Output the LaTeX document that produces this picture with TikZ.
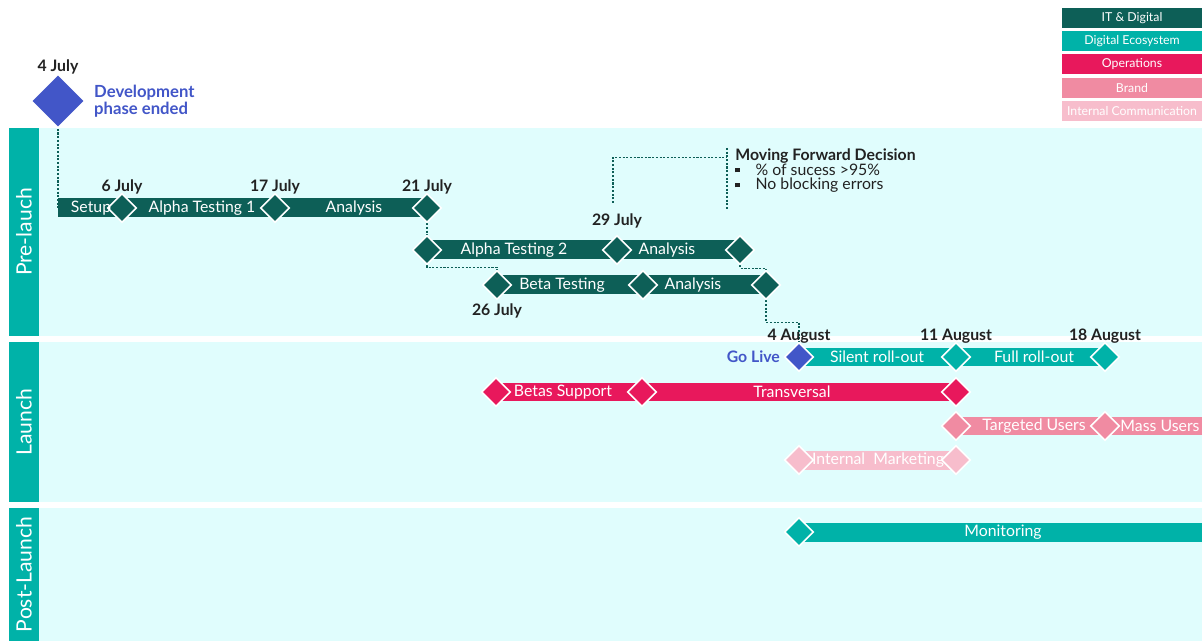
\documentclass[tikz,border=0pt]{standalone}
\usepackage{fontspec}
\setmainfont{Lato}
\usetikzlibrary{calc,positioning,shapes.geometric}
\definecolor{itd}{HTML}{0D5F57}
\definecolor{eco}{HTML}{00B2A8}
\definecolor{ops}{HTML}{E8185C}
\definecolor{brand}{HTML}{F08BA2}
\definecolor{intcom}{HTML}{F7BDCC}
\definecolor{mile}{HTML}{4256C8}
\definecolor{band}{HTML}{E0FDFD}
\definecolor{ink}{HTML}{222222}
\pgfdeclarelayer{bars}
\pgfsetlayers{bars,main}

\begin{document}
\begin{tikzpicture}[x=0.02cm,y=-0.02cm,
  ms/.style={diamond, draw=white, line width=0.9pt, fill=#1, minimum size=0.58cm, inner sep=0pt},
  bar/.style={draw=#1, line width=0.38cm},
  bartext/.style={text=white, font=\fontsize{9}{10}\selectfont},
  datel/.style={text=ink, font=\bfseries\fontsize{9}{10}\selectfont, inner sep=1pt, label distance=-2pt},
  link/.style={draw=itd, line width=0.7pt, dash pattern=on 1.2pt off 0.9pt},
  lane/.style={fill=eco, text=white, rotate=90, minimum height=0.6cm, inner sep=0pt, font=\fontsize{12}{12}\selectfont},
  leg/.style={fill=#1, text=white, minimum width=2.8cm, minimum height=0.4cm, inner sep=0pt, font=\fontsize{7}{8}\selectfont}]

\begin{pgfonlayer}{bars}
\fill[white] (0,0) rectangle (1202,641);
\fill[band] (9,128) rectangle (1202,336);
\fill[band] (9,342) rectangle (1202,502);
\fill[band] (9,508) rectangle (1202,641);
\end{pgfonlayer}
\useasboundingbox (0,0) rectangle (1202,641);

\node[lane, minimum width=4.16cm] (pre) at (24,232) {Pre-lauch};
\node[lane, minimum width=3.2cm] (lau) at (24,422) {Launch};
\node[lane, minimum width=2.66cm] (post) at (24,574.5) {Post-Launch};

\node[leg=itd] (lgit) at (1132,18) {IT \& Digital};
\node[leg=eco, below=0.05cm of lgit] (lgeco) {Digital Ecosystem};
\node[leg=ops, below=0.05cm of lgeco] (lgops) {Operations};
\node[leg=brand, below=0.05cm of lgops] (lgbr) {Brand};
\node[leg=intcom, below=0.05cm of lgbr] (lgint) {Internal Communication};

\node[ms=mile, minimum size=1.08cm, label={[datel]above:4 July}] (dev) at (58,101) {};
\node[anchor=west, align=left, text=mile, font=\bfseries\fontsize{9.5}{9.5}\selectfont] (devt) at (88,101) {Development\\phase ended};

\coordinate (s0) at (58,208);
\node[ms=itd, label={[datel]above:6 July}] (d6) at (122,208) {};
\node[ms=itd, label={[datel]above:17 July}] (d17) at (275,208) {};
\node[ms=itd, label={[datel]above:21 July}] (d21) at (427,208) {};
\node[ms=itd] (a2s) at (427,250) {};
\node[ms=itd, label={[datel, label distance=0.09cm]above:29 July}] (d29) at (617,250) {};
\node[ms=itd] (a2e) at (740,250) {};
\node[ms=itd, label={[datel, label distance=1pt]below:26 July}] (d26) at (497,285) {};
\node[ms=itd] (b3m) at (643,285) {};
\node[ms=itd] (b3e) at (766,285) {};

\node[ms=mile, label={[datel]above:4 August}, label={[datel, text=mile, label distance=1pt]left:Go Live}] (live) at (799,357) {};
\node[ms=eco, label={[datel]above:11 August}] (d11) at (956,357) {};
\node[ms=eco, label={[datel]above:18 August}] (d18) at (1105,357) {};
\node[ms=ops] (o1) at (496,392) {};
\node[ms=ops] (o2) at (642,392) {};
\node[ms=ops] (o3) at (956,392) {};
\node[ms=brand] (b1) at (956,426) {};
\node[ms=brand] (b2) at (1105,426) {};
\coordinate (bend) at (1202,426);
\node[ms=intcom] (i1) at (799,460) {};
\node[ms=intcom] (i2) at (956,460) {};
\node[ms=eco] (m1) at (799,532) {};
\coordinate (mend) at (1202,532);

\begin{pgfonlayer}{bars}
\draw[link] (dev.south) -- (s0);
\draw[link] (d21.south) -- (a2s.north);
\draw[link] (a2s.south) -- ++(0,2) -| (d26.north);
\draw[link] (a2e.south) -- ++(0,3) -| (b3e.north);
\draw[link] (b3e.south) -- ++(0,22) -| (live.north);
\draw[bar=itd] (s0) -- (d21.center);
\draw[bar=itd] (a2s.center) -- (a2e.center);
\draw[bar=itd] (d26.center) -- (b3e.center);
\draw[bar=eco] (live.center) -- (d18.center);
\draw[bar=ops] (o1.center) -- (o3.center);
\draw[bar=brand] (b1.center) -- (bend);
\draw[bar=intcom] (i1.center) -- (i2.center);
\draw[bar=eco] (m1.center) -- (mend);
\end{pgfonlayer}

\node[bartext] (t1) at (91,208) {Setup};
\node[bartext] (t2) at (202,208) {Alpha Testing 1};
\node[bartext] (t3) at (354,208) {Analysis};
\node[bartext] (t4) at (514,250) {Alpha Testing 2};
\node[bartext] (t5) at (667,250) {Analysis};
\node[bartext] (t6) at (562,285) {Beta Testing};
\node[bartext] (t7) at (693,285) {Analysis};
\node[bartext] (t8) at (877,357) {Silent roll-out};
\node[bartext] (t9) at (1034,357) {Full roll-out};
\node[bartext] (t10) at (563,392) {Betas Support};
\node[bartext] (t11) at (792,392) {Transversal};
\node[bartext] (t12) at (1034,426) {Targeted Users};
\node[bartext] (t13) at (1160,426) {Mass Users};
\node[bartext] (t14) at (878,460) {Internal\ \ Marketing};
\node[bartext] (t15) at (1003,532) {Monitoring};

\coordinate (mfa) at (613,203);
\coordinate (mfb) at (727,148);
\coordinate (mfc) at (727,210);
\draw[link] (mfa) |- ($(mfb)!0.15!(mfc)$);
\draw[link] (mfb) -- (mfc);
\node[anchor=north west, align=left, text=ink, inner sep=0pt, font=\fontsize{9}{8.5}\selectfont] (mfd) at (735,148)
  {\textbf{Moving Forward Decision}\\
   \rule[1.5pt]{2.5pt}{2.5pt}\hspace{9pt}\% of sucess >95\%\\
   \rule[1.5pt]{2.5pt}{2.5pt}\hspace{9pt}No blocking errors};
\end{tikzpicture}
\end{document}
